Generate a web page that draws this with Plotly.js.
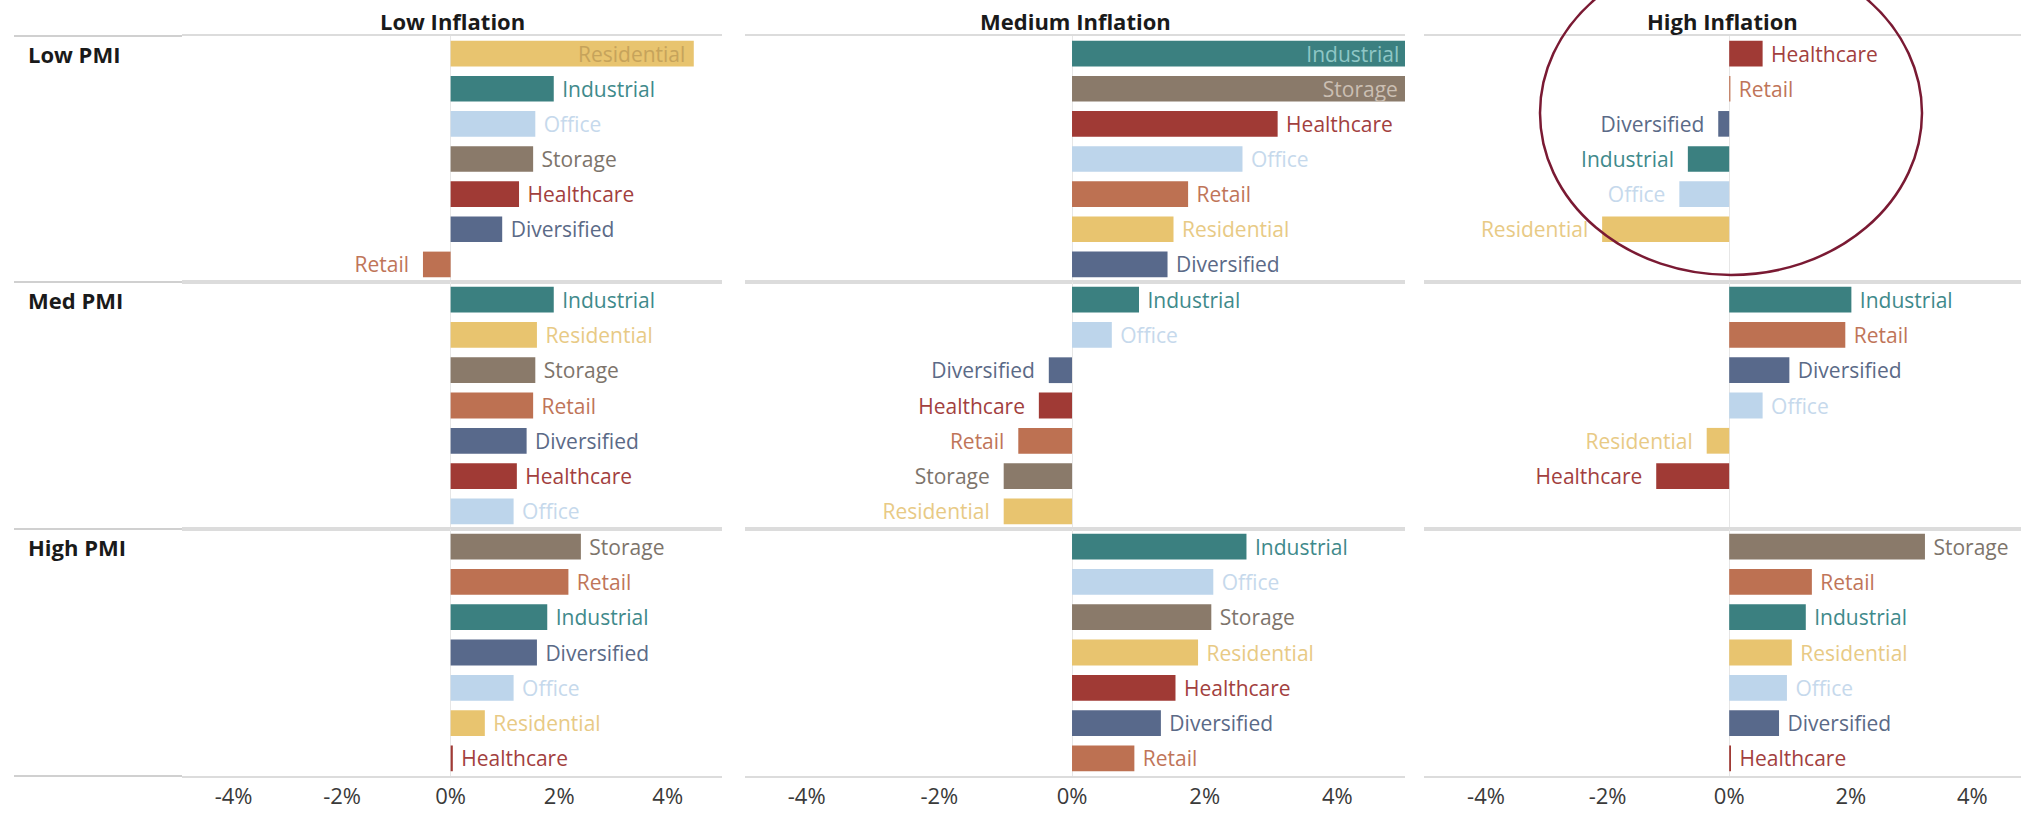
<!DOCTYPE html>
<html><head><meta charset="utf-8">
<script src="https://cdn.plot.ly/plotly-3.0.1.min.js"></script>
<style>html,body{margin:0;padding:0;background:#fff}#chart{width:2021px;height:813px}</style>
</head><body><div id="chart"></div>
<script>
// ---------- data ----------
const inflationLevels = ['Low Inflation', 'Medium Inflation', 'High Inflation'];
const pmiLevels = ['Low PMI', 'Med PMI', 'High PMI'];
const xTickValues = [-4, -2, 0, 2, 4];
const xTickLabels = ['-4%', '-2%', '0%', '2%', '4%'];

// Low inflation
const lowInfLowPmiSectors = ['Residential', 'Industrial', 'Office', 'Storage', 'Healthcare', 'Diversified', 'Retail'];
const lowInfLowPmiValues  = [4.48, 1.90, 1.56, 1.52, 1.26, 0.95, -0.51];
const lowInfMedPmiSectors = ['Industrial', 'Residential', 'Storage', 'Retail', 'Diversified', 'Healthcare', 'Office'];
const lowInfMedPmiValues  = [1.90, 1.59, 1.56, 1.52, 1.40, 1.22, 1.16];
const lowInfHighPmiSectors = ['Storage', 'Retail', 'Industrial', 'Diversified', 'Office', 'Residential', 'Healthcare'];
const lowInfHighPmiValues  = [2.40, 2.17, 1.78, 1.59, 1.16, 0.63, 0.04];

// Medium inflation
const medInfLowPmiSectors = ['Industrial', 'Storage', 'Healthcare', 'Office', 'Retail', 'Residential', 'Diversified'];
const medInfLowPmiValues  = [5.06, 5.04, 3.10, 2.57, 1.75, 1.53, 1.44];
const medInfMedPmiSectors = ['Industrial', 'Office', 'Diversified', 'Healthcare', 'Retail', 'Storage', 'Residential'];
const medInfMedPmiValues  = [1.01, 0.60, -0.35, -0.50, -0.81, -1.03, -1.03];
const medInfHighPmiSectors = ['Industrial', 'Office', 'Storage', 'Residential', 'Healthcare', 'Diversified', 'Retail'];
const medInfHighPmiValues  = [2.63, 2.13, 2.10, 1.90, 1.56, 1.34, 0.94];

// High inflation
const highInfLowPmiSectors = ['Healthcare', 'Retail', 'Diversified', 'Industrial', 'Office', 'Residential'];
const highInfLowPmiValues  = [0.55, 0.02, -0.18, -0.68, -0.82, -2.09];
const highInfMedPmiSectors = ['Industrial', 'Retail', 'Diversified', 'Office', 'Residential', 'Healthcare'];
const highInfMedPmiValues  = [2.01, 1.91, 0.99, 0.55, -0.37, -1.20];
const highInfHighPmiSectors = ['Storage', 'Retail', 'Industrial', 'Residential', 'Office', 'Diversified', 'Healthcare'];
const highInfHighPmiValues  = [3.22, 1.36, 1.26, 1.03, 0.95, 0.82, 0.03];

// ---------- styles ----------
const barColor = {
  Residential: '#E8C46F', Industrial: '#3B8080', Office: '#BDD5EB', Storage: '#8A7A6A',
  Healthcare: '#A03A35', Diversified: '#58698B', Retail: '#BD7152'
};
const labelColor = {
  Residential: '#E8CA85', Industrial: '#3F8A8B', Office: '#C6D9EC', Storage: '#7D746B',
  Healthcare: '#A2403E', Diversified: '#5B6A87', Retail: '#BF7559'
};
const insideLabelColor = {
  Residential: '#C6A35B', Industrial: '#8FC7C6', Office: '#E8F0F8', Storage: '#CBBFB3',
  Healthcare: '#E7B9B6', Diversified: '#C9D1E0', Retail: '#EBC7B8'
};

const grid = [
  [ {s: lowInfLowPmiSectors, v: lowInfLowPmiValues}, {s: medInfLowPmiSectors, v: medInfLowPmiValues}, {s: highInfLowPmiSectors, v: highInfLowPmiValues} ],
  [ {s: lowInfMedPmiSectors, v: lowInfMedPmiValues}, {s: medInfMedPmiSectors, v: medInfMedPmiValues}, {s: highInfMedPmiSectors, v: highInfMedPmiValues} ],
  [ {s: lowInfHighPmiSectors, v: lowInfHighPmiValues}, {s: medInfHighPmiSectors, v: medInfHighPmiValues}, {s: highInfHighPmiSectors, v: highInfHighPmiValues} ]
];

// ---------- layout geometry (pixels) ----------
const W = 2021, H = 813;
const px = x => x / W;
const py = y => 1 - y / H;
const colPx = [[182, 722], [745, 1405], [1424, 2021]];
const colRange = [[-4.95, 5.0], [-4.93, 5.02], [-5.02, 4.80]];
const rowPx = [[36, 282], [282, 529], [529, 776]];

const FONT = '"Open Sans", "Noto Sans", Arial, sans-serif';
const LABEL_SIZE = 21;
const NB = '\u00A0';

const traces = [];
const layout = {
  width: W, height: H,
  margin: {l: 0, r: 0, t: 0, b: 0},
  paper_bgcolor: '#ffffff', plot_bgcolor: 'rgba(0,0,0,0)',
  showlegend: false, bargap: 0.27,
  font: {family: FONT, color: '#333'},
  annotations: [], shapes: []
};

for (let r = 0; r < 3; r++) {
  for (let c = 0; c < 3; c++) {
    const k = r * 3 + c + 1;
    const cell = grid[r][c];
    const maxR = colRange[c][1];
    const pos = cell.v.map(v => (v > 0.8 * maxR ? 'inside' : 'outside'));
    traces.push({
      type: 'bar', orientation: 'h',
      x: cell.v, y: cell.s,
      xaxis: 'x' + k, yaxis: 'y' + k,
      marker: {color: cell.s.map(s => barColor[s]), line: {width: 0}},
      text: cell.s.map((s, i) => pos[i] === 'inside' ? s + NB : (cell.v[i] < 0 ? s + NB + NB : NB + s)),
      textposition: pos,
      insidetextanchor: 'end',
      constraintext: 'none',
      cliponaxis: true,
      textfont: {family: FONT, size: LABEL_SIZE, color: cell.s.map((s, i) => pos[i] === 'inside' ? insideLabelColor[s] : labelColor[s])},
      insidetextfont: {family: FONT, size: LABEL_SIZE, color: cell.s.map(s => insideLabelColor[s])},
      outsidetextfont: {family: FONT, size: LABEL_SIZE, color: cell.s.map(s => labelColor[s])},
      hoverinfo: 'skip'
    });
    layout['xaxis' + k] = {
      domain: [px(colPx[c][0]), px(colPx[c][1])],
      range: colRange[c], anchor: 'y' + k, fixedrange: true,
      showgrid: false, zeroline: true, zerolinecolor: '#E6E6E6', zerolinewidth: 1,
      showline: true, linecolor: '#DCDCDC', linewidth: 2, mirror: true,
      ticks: '', showticklabels: r === 2,
      tickmode: 'array', tickvals: xTickValues, ticktext: xTickLabels,
      tickfont: {family: FONT, size: 22, color: '#3a3a3a'}
    };
    layout['yaxis' + k] = {
      domain: [py(rowPx[r][1]), py(rowPx[r][0])],
      anchor: 'x' + k, type: 'category', fixedrange: true,
      categoryorder: 'array', categoryarray: cell.s,
      range: [6.5, -0.5],
      showticklabels: false, showgrid: false, zeroline: false, showline: false, ticks: ''
    };
  }
}

// column titles
inflationLevels.forEach((t, c) => {
  layout.annotations.push({
    text: '<b>' + t + '</b>', xref: 'paper', yref: 'paper',
    x: px((colPx[c][0] + colPx[c][1]) / 2), y: py(21),
    xanchor: 'center', yanchor: 'middle', showarrow: false,
    font: {family: FONT, size: 22, color: '#1a1a1a'}
  });
});
// row headers
pmiLevels.forEach((t, r) => {
  layout.annotations.push({
    text: '<b>' + t + '</b>', xref: 'paper', yref: 'paper',
    x: px(26), y: py(rowPx[r][0] + 18),
    xanchor: 'left', yanchor: 'middle', showarrow: false,
    font: {family: FONT, size: 22, color: '#1a1a1a'}
  });
});
// row header separator lines
[36, 282, 529, 776].forEach(y => {
  layout.shapes.push({
    type: 'line', xref: 'paper', yref: 'paper',
    x0: px(14), x1: px(182), y0: py(y), y1: py(y),
    line: {color: '#D0D0D0', width: 2}
  });
});
// highlight circle
layout.shapes.push({
  type: 'circle', xref: 'paper', yref: 'paper',
  x0: px(1540), x1: px(1922), y0: py(275), y1: py(-49),
  line: {color: '#7A1A33', width: 2.5}, fillcolor: 'rgba(0,0,0,0)'
});

Plotly.newPlot('chart', traces, layout, {displayModeBar: false, staticPlot: true});
</script>
</body></html>
